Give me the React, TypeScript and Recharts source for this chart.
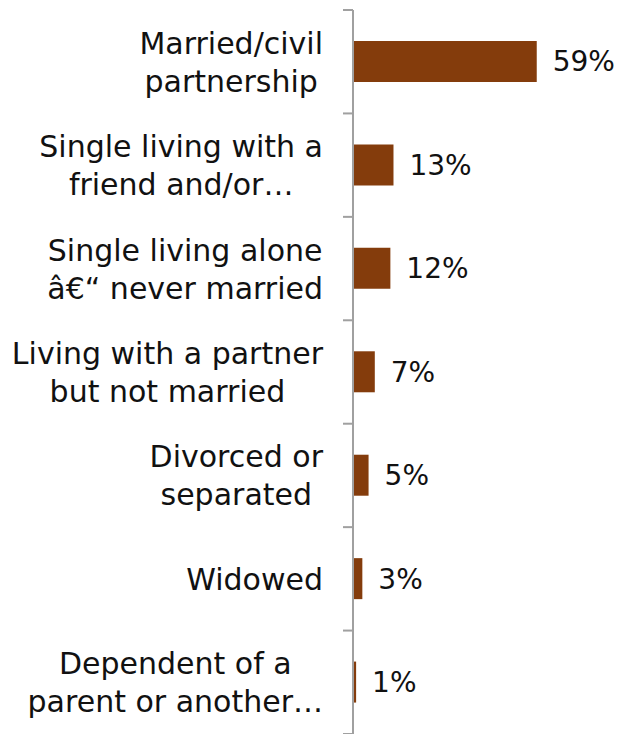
import React from "react";
import { BarChart, Bar, XAxis, YAxis, LabelList } from "recharts";

const categories = [
  ["Married/civil", "partnership"],
  ["Single living with a", "friend and/or…"],
  ["Single living alone", "â€\u201C never married"],
  ["Living with a partner", "but not married"],
  ["Divorced or", "separated"],
  ["Widowed"],
  ["Dependent of a", "parent or another…"],
];
const values = [59, 13, 12, 7, 5, 3, 1];

const data = categories.map((lines, i) => ({ name: lines.join(" "), lines, value: values[i] }));

const FONT = "'DejaVu Sans', sans-serif";
const FONT_SIZE = 30;
const LABEL_SIZE = 28;
const CHART_W = 617;
const CHART_H = 734;
const MARGIN = { top: 10, right: 46, bottom: 0, left: 0 };
const AXIS_W = 353;
const BAND = (CHART_H - MARGIN.top - MARGIN.bottom) / categories.length;

let ctx: CanvasRenderingContext2D | null = null;
function measure(s: string) {
  if (!ctx) ctx = document.createElement("canvas").getContext("2d");
  if (!ctx) return s.length * FONT_SIZE * 0.55;
  ctx.font = `${FONT_SIZE}px ${FONT}`;
  return ctx.measureText(s).width;
}

function CategoryTick(props: any) {
  const { x, y, payload, index } = props;
  const lines: string[] = data[index]?.lines ?? [payload.value];
  const blockW = Math.max(...lines.map(measure));
  const cx = x - blockW / 2;
  const lineH = 38;
  const firstBase = y + 11 - ((lines.length - 1) * lineH) / 2;
  const axisX = MARGIN.left + AXIS_W;
  const top = y - BAND / 2;
  return (
    <g>
      <line x1={axisX - 10} x2={axisX} y1={top} y2={top} stroke="#a0a0a0" strokeWidth={2} />
      {index === categories.length - 1 && (
        <line x1={axisX - 10} x2={axisX} y1={top + BAND} y2={top + BAND} stroke="#a0a0a0" strokeWidth={2} />
      )}
      {lines.map((l, i) => (
        <text
          key={i}
          x={cx}
          y={firstBase + i * lineH}
          textAnchor="middle"
          fontFamily={FONT}
          fontSize={FONT_SIZE}
          fill="#111"
        >
          {l}
        </text>
      ))}
    </g>
  );
}

export default function App() {
  return (
    <div style={{ position: "absolute", left: 0, top: 0, background: "#fff" }}>
      <BarChart width={CHART_W} height={CHART_H} data={data} layout="vertical" margin={MARGIN}>
        <XAxis type="number" domain={[0, 70]} hide />
        <YAxis
          type="category"
          dataKey="name"
          width={AXIS_W}
          tickLine={false}
          tickSize={10}
          tickMargin={20}
          axisLine={{ stroke: "#a0a0a0", strokeWidth: 2 }}
          tick={<CategoryTick />}
          interval={0}
        />
        <Bar dataKey="value" fill="#843C0C" barSize={41} isAnimationActive={false}>
          <LabelList
            dataKey="value"
            position="right"
            offset={16}
            formatter={(v: any) => `${v}%`}
            style={{ fontFamily: FONT, fontSize: LABEL_SIZE, fill: "#111" }}
          />
        </Bar>
      </BarChart>
    </div>
  );
}
